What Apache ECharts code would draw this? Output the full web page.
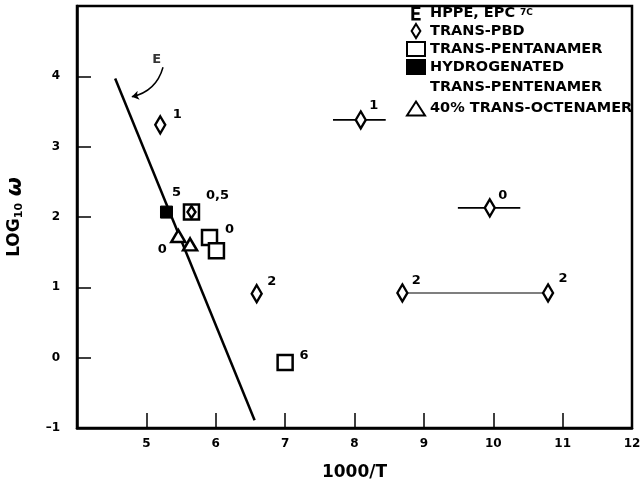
<!DOCTYPE html>
<html>
<head>
<meta charset="utf-8">
<script src="https://cdn.jsdelivr.net/npm/echarts@6/dist/echarts.min.js"></script>
<style>
  html, body { margin: 0; padding: 0; background: #fff; }
  #chart { width: 643px; height: 485px; }
</style>
</head>
<body>
<div id="chart"></div>
<script>
// line E (HPPE, EPC) and its annotation
var eLineX = [4.55, 6.56]
var eLineY = [3.97, -0.89]
var eTextX = [5.15]
var eTextY = [4.24]
var eArrowX = [5.24, 4.79]
var eArrowY = [4.13, 3.71]

// trans-PBD (diamonds)
var pbdX = [5.20, 5.65, 6.59, 8.09, 9.95, 8.69, 10.79]
var pbdY = [3.31, 2.07, 0.91, 3.38, 2.13, 0.92, 0.92]
var pbdTags = ['1', '', '2', '1', '0', '2', '2']

// horizontal range bars on two PBD points
var barLo = [7.69, 9.49]
var barHi = [8.45, 10.39]
var barY = [3.38, 2.13]
// thin line joining the two PBD points at the same level
var spanX = [8.69, 10.79]
var spanY = [0.92, 0.92]

// trans-pentanamer (open squares)
var pentX = [5.65, 5.91, 6.01, 7.00]
var pentY = [2.07, 1.71, 1.52, -0.07]
var pentTags = ['0,5', '0', '', '6']

// hydrogenated trans-pentenamer (filled square)
var hydX = [5.29]
var hydY = [2.07]
var hydTags = ['5']

// 40% trans-octenamer (triangles)
var octX = [5.46, 5.63]
var octY = [1.73, 1.61]
var octTags = ['0', '']

var xTickLabels = ['5', '6', '7', '8', '9', '10', '11', '12']
var yTickLabels = ['-1', '0', '1', '2', '3', '4']

// label placement (pixels from the mark), kept apart from the values
var pbdTagOffsets = [[17, -10], [0, 0], [15, -12], [13, -14], [13, -12], [14, -12], [15, -14]]
var pentTagOffsets = [[26, -16], [20, -8], [0, 0], [19, -7]]
var hydTagOffsets = [[10, -19]]
var octTagOffsets = [[-16, 14], [0, 0]]

var FONT = 'DejaVu Sans'
var DIAMOND = 'path://M5,0L10,8L5,16L0,8Z'
var LETTER_E = 'path://M0,0H9V2.6H2.9V5.7H8.2V8.2H2.9V11.4H9.3V14H0Z'

function points(xs, ys, tags, offsets) {
  return xs.map(function (x, i) {
    return {
      value: [x, ys[i]],
      label: {
        show: !!tags[i],
        formatter: tags[i],
        position: 'inside',
        offset: offsets[i]
      }
    }
  })
}

function pairs(xs, ys) {
  return xs.map(function (x, i) { return [x, ys[i]] })
}

var barData = []
barLo.forEach(function (lo, i) {
  if (i > 0) barData.push(['-', '-'])
  barData.push([lo, barY[i]])
  barData.push([barHi[i], barY[i]])
})

var pbdData = points(pbdX, pbdY, pbdTags, pbdTagOffsets)
// the diamond drawn inside a square is smaller
pbdData[1].symbolSize = [8, 12]

var tagLabel = {
  color: '#000',
  fontFamily: FONT,
  fontWeight: 'bold',
  fontSize: 13
}
var openStyle = { color: '#fff', borderColor: '#000', borderWidth: 2.5, opacity: 1 }

var chart = echarts.init(document.getElementById('chart'))
chart.setOption({
  animation: false,
  backgroundColor: '#fff',
  grid: {
    left: 77,
    right: 11,
    top: 6,
    bottom: 57,
    outerBoundsMode: 'none',
    show: true,
    borderColor: '#000',
    borderWidth: 2.5
  },
  legend: {
    orient: 'vertical',
    left: 401,
    top: 1,
    itemWidth: 18,
    itemHeight: 14,
    itemGap: 2,
    selectedMode: false,
    textStyle: {
      color: '#000',
      fontFamily: FONT,
      fontWeight: 'bold',
      fontSize: 14.5,
      lineHeight: 14,
      rich: {
        sup: {
          color: '#000',
          fontFamily: FONT,
          fontWeight: 'bold',
          fontSize: 9,
          lineHeight: 9,
          verticalAlign: 'top',
          padding: [2, 0, 0, 0]
        },
        t: {
          color: '#000',
          fontFamily: FONT,
          fontWeight: 'bold',
          fontSize: 14.5,
          lineHeight: 21
        }
      }
    },
    data: [
      { name: 'HPPE, EPC', icon: LETTER_E },
      { name: 'TRANS-PBD', icon: DIAMOND },
      { name: 'TRANS-PENTANAMER', icon: 'rect' },
      { name: 'HYDROGENATED', icon: 'rect' },
      { name: '40% TRANS-OCTENAMER', icon: 'triangle' }
    ],
    formatter: function (name) {
      if (name === 'HPPE, EPC') return 'HPPE, EPC {sup|7C}'
      if (name === '40% TRANS-OCTENAMER') {
        return '{t|TRANS-PENTENAMER}\n{t|40% TRANS-OCTENAMER}\n{t| }'
      }
      return name
    }
  },
  xAxis: {
    type: 'value',
    min: 4,
    max: 12,
    interval: 1,
    name: '1000/T',
    nameLocation: 'middle',
    nameGap: 36,
    nameTextStyle: { color: '#000', fontFamily: FONT, fontWeight: 'bold', fontSize: 17 },
    axisLine: { show: true, onZero: false, lineStyle: { color: '#000', width: 2.5 } },
    axisTick: { show: true, inside: true, length: 15, lineStyle: { color: '#000', width: 1.5 } },
    axisLabel: {
      margin: 10,
      color: '#000',
      fontFamily: FONT,
      fontWeight: 'bold',
      fontSize: 12,
      formatter: function (v) {
        var s = String(v)
        return xTickLabels.indexOf(s) >= 0 ? s : ''
      }
    },
    splitLine: { show: false }
  },
  yAxis: {
    type: 'value',
    min: -1,
    max: 5,
    interval: 1,
    name: '{a|LOG}{s|10}  {w|ω}',
    nameLocation: 'middle',
    nameGap: 51,
    nameTextStyle: {
      color: '#000',
      rich: {
        a: { fontFamily: FONT, fontWeight: 'bold', fontSize: 17, color: '#000' },
        s: { fontFamily: FONT, fontWeight: 'bold', fontSize: 11, color: '#000', padding: [8, 0, 0, 0] },
        w: { fontFamily: FONT, fontWeight: 'bold', fontStyle: 'italic', fontSize: 22, color: '#000' }
      }
    },
    axisLine: { show: true, onZero: false, lineStyle: { color: '#000', width: 2.5 } },
    axisTick: { show: true, inside: true, length: 14, lineStyle: { color: '#000', width: 1.5 } },
    axisLabel: {
      margin: 17,
      color: '#000',
      fontFamily: FONT,
      fontWeight: 'bold',
      fontSize: 12,
      formatter: function (v) {
        var s = String(v)
        if (yTickLabels.indexOf(s) < 0) return ''
        return s === '-1' ? '\u20131' : s
      }
    },
    splitLine: { show: false }
  },
  series: [
    {
      name: 'HPPE, EPC',
      type: 'line',
      data: pairs(eLineX, eLineY),
      symbol: 'none',
      color: '#000',
      lineStyle: { color: '#000', width: 2.5 },
      z: 2
    },
    {
      name: 'E label',
      type: 'scatter',
      data: pairs(eTextX, eTextY),
      symbolSize: 0,
      label: {
        show: true,
        position: 'inside',
        formatter: 'E',
        color: '#000',
        fontFamily: FONT,
        fontWeight: 'bold',
        fontSize: 13
      },
      silent: true
    },
    {
      name: 'E arrow',
      type: 'lines',
      coordinateSystem: 'cartesian2d',
      data: [{ coords: pairs(eArrowX, eArrowY) }],
      symbol: ['none', 'arrow'],
      symbolSize: 7,
      lineStyle: { color: '#000', width: 1.5, curveness: 0.3, opacity: 1 },
      silent: true
    },
    {
      name: 'bars',
      type: 'line',
      data: barData,
      symbol: 'none',
      connectNulls: false,
      lineStyle: { color: '#000', width: 1.8 },
      z: 2
    },
    {
      name: 'span',
      type: 'line',
      data: pairs(spanX, spanY),
      symbol: 'none',
      lineStyle: { color: '#000', width: 1.1 },
      z: 2
    },
    {
      name: 'TRANS-PENTANAMER',
      type: 'scatter',
      data: points(pentX, pentY, pentTags, pentTagOffsets),
      symbol: 'rect',
      symbolSize: 15,
      itemStyle: openStyle,
      label: tagLabel,
      z: 3
    },
    {
      name: 'TRANS-PBD',
      type: 'scatter',
      data: pbdData,
      symbol: DIAMOND,
      symbolSize: [10, 17],
      itemStyle: openStyle,
      label: tagLabel,
      z: 4
    },
    {
      name: 'HYDROGENATED',
      type: 'scatter',
      data: points(hydX, hydY, hydTags, hydTagOffsets),
      symbol: 'rect',
      symbolSize: 12,
      itemStyle: { color: '#000', borderColor: '#000', borderWidth: 1, opacity: 1 },
      label: tagLabel,
      z: 4
    },
    {
      name: '40% TRANS-OCTENAMER',
      type: 'scatter',
      data: points(octX, octY, octTags, octTagOffsets),
      symbol: 'triangle',
      symbolSize: [14, 12],
      itemStyle: openStyle,
      label: tagLabel,
      z: 4
    }
  ]
})
</script>
</body>
</html>
